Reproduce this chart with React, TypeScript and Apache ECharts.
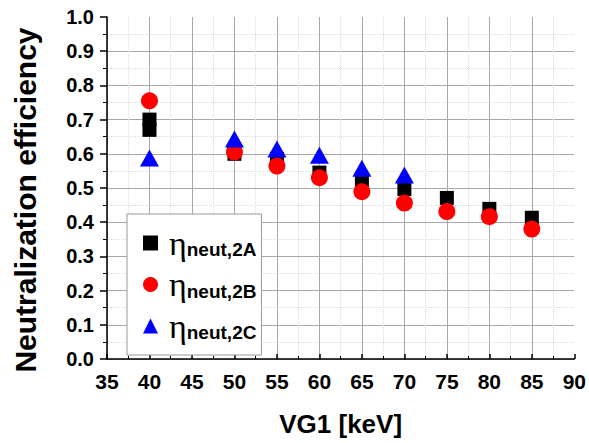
import React, { useEffect, useRef } from "react";
import * as echarts from "echarts";

const xA = [40, 40, 50, 55, 60, 65, 70, 75, 80, 85];
const yA = [0.70, 0.67, 0.60, 0.585, 0.545, 0.518, 0.497, 0.471, 0.439, 0.413];
const xB = [40, 50, 55, 60, 65, 70, 75, 80, 85];
const yB = [0.755, 0.605, 0.564, 0.53, 0.489, 0.456, 0.431, 0.416, 0.38];
const xC = [40, 50, 55, 60, 65, 70];
const yC = [0.588, 0.643, 0.614, 0.596, 0.558, 0.538];
const seriesNames = ["2A", "2B", "2C"];

const FONT = "Arial, 'Liberation Sans', sans-serif";
const SERIF = "'Liberation Serif', 'Times New Roman', serif";

export default function App() {
  const ref = useRef<HTMLDivElement>(null);
  useEffect(() => {
    const chart = echarts.init(ref.current!, null, { renderer: "svg" });
    const pair = (xs: number[], ys: number[]) => xs.map((x, i) => [x, ys[i]]);
    chart.setOption({
      animation: false,
      backgroundColor: "#ffffff",
      grid: { left: 107, right: 14, top: 17, bottom: 84 },
      legend: {
        orient: "vertical",
        left: 127,
        top: 214,
        padding: [12, 5, 12, 16],
        itemGap: 7.5,
        itemWidth: 15,
        itemHeight: 15,
        backgroundColor: "#ffffff",
        borderColor: "#999999",
        borderWidth: 1,
        data: seriesNames.map((n) => ({ name: n })),
        formatter: (n: string) => `{eta|η}{sub|neut,${n}}`,
        textStyle: {
          rich: {
            eta: { fontSize: 34, fontFamily: SERIF, color: "#000", lineHeight: 31, padding: [0, 0, 0, 6] },
            sub: { fontSize: 19, fontWeight: "bold", fontFamily: FONT, color: "#000", lineHeight: 19, padding: [13, 0, 0, 0] },
          },
        },
      },
      xAxis: {
        type: "value",
        min: 35,
        max: 90,
        interval: 5,
        name: "VG1 [keV]",
        nameLocation: "middle",
        nameGap: 52,
        nameTextStyle: { fontSize: 26, fontWeight: "bold", fontFamily: FONT, color: "#000" },
        axisLine: { onZero: false, lineStyle: { color: "#000", width: 1.5 } },
        axisTick: { inside: true, length: 5, lineStyle: { color: "#000", width: 1.5 } },
        minorTick: { show: true, splitNumber: 2, length: 3, lineStyle: { color: "#000" } },
        axisLabel: { fontSize: 21, fontWeight: "bold", fontFamily: FONT, color: "#000", margin: 12 },
        splitLine: { show: true, showMaxLine: false, lineStyle: { color: "#a8a8a8", width: 1 } },
        minorSplitLine: { show: true, lineStyle: { color: "#dcdcdc", type: "dotted", width: 1 } },
      },
      yAxis: {
        type: "value",
        min: 0,
        max: 1,
        interval: 0.1,
        name: "Neutralization efficiency",
        nameLocation: "middle",
        nameGap: 67,
        nameTextStyle: { fontSize: 30, fontWeight: "bold", fontFamily: FONT, color: "#000", padding: [0, 24, 0, 0] },
        axisLine: { show: true, lineStyle: { color: "#000", width: 1.5 } },
        axisTick: { show: true, inside: false, length: 7, lineStyle: { color: "#000", width: 1.5 } },
        minorTick: { show: true, splitNumber: 2, length: 4, lineStyle: { color: "#000" } },
        axisLabel: {
          fontSize: 20,
          fontWeight: "bold",
          fontFamily: FONT,
          color: "#000",
          margin: 13,
          formatter: (v: number) => v.toFixed(1),
        },
        splitLine: { show: true, showMaxLine: false, lineStyle: { color: "#a8a8a8", width: 1 } },
        minorSplitLine: { show: true, lineStyle: { color: "#dcdcdc", type: "dotted", width: 1 } },
      },
      series: [
        { name: "2A", type: "scatter", symbol: "rect", symbolSize: 14, itemStyle: { color: "#000000", opacity: 1 }, data: pair(xA, yA), z: 2 },
        { name: "2B", type: "scatter", symbol: "circle", symbolSize: 17, itemStyle: { color: "#ff0000", opacity: 1 }, data: pair(xB, yB), z: 3 },
        { name: "2C", type: "scatter", symbol: "triangle", symbolSize: [19, 17], itemStyle: { color: "#0000ff", opacity: 1 }, data: pair(xC, yC), z: 4 },
      ],
    });
    return () => chart.dispose();
  }, []);
  return <div ref={ref} style={{ width: 589, height: 443, position: "absolute", left: 0, top: 0 }} />;
}
